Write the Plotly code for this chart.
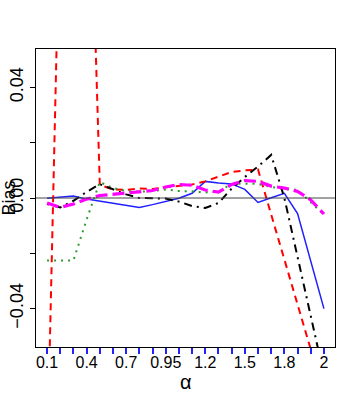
import plotly.graph_objects as go

# alpha positions (index) and labels
alpha_labels = ["0.1", "0.2", "0.3", "0.4", "0.5", "0.6", "0.7", "0.8", "0.9", "0.95",
                "1.05", "1.1", "1.2", "1.3", "1.4", "1.5", "1.6", "1.7", "1.8", "1.9", "1.95", "2"]
shown_labels = ["0.1", "0.4", "0.7", "0.95", "1.2", "1.5", "1.8", "2"]
x_idx = list(range(1, len(alpha_labels) + 1))

blue = [-0.0001, 0.0002, 0.0007, -0.0004, -0.0011, -0.0018, -0.0025, -0.0034, -0.0024, -0.0012,
        -0.0001, 0.0017, 0.0060, 0.0054, 0.0051, 0.0031, -0.0016, 0.0001, 0.0017, -0.0056,
        -0.0228, -0.0400]
red = [-0.097, 0.113, 0.140, 0.163, 0.0047, 0.0031, 0.0029, 0.0034, 0.0033, 0.0038,
       0.0043, 0.0049, 0.0060, 0.0076, 0.0094, 0.0100, 0.0103, -0.0060, -0.0223, -0.0386,
       -0.0548, -0.0710]
green = [-0.0226, -0.0226, -0.0226, -0.0078, 0.0058, 0.0036, 0.0025, 0.0023, 0.0025, 0.0031,
         0.0025, 0.0024, 0.0020, 0.0023, 0.0051, 0.0052, 0.0051, 0.0040, 0.0033, 0.0029,
         -0.0015, -0.0060]
black = [-0.0022, -0.0034, -0.0010, 0.0022, 0.0050, 0.0031, 0.0013, 0.0000, 0.0000, -0.0002,
         -0.0013, -0.0029, -0.0036, -0.0018, 0.0034, 0.0076, 0.0114, 0.0156, 0.0000, -0.0214,
         -0.0430, -0.0640]
magenta = [-0.0018, -0.0034, -0.0022, -0.0004, 0.0009, 0.0014, 0.0017, 0.0022, 0.0027, 0.0040,
           0.0049, 0.0046, 0.0029, 0.0021, 0.0049, 0.0063, 0.0060, 0.0043, 0.0036, 0.0024,
           -0.0007, -0.0058]

y_ticks = [-0.04, -0.02, 0.0, 0.02, 0.04]
y_ticktext = ["\u22120.04", "", "0.00", "", "0.04"]

fig = go.Figure()
fig.add_hline(y=0, line=dict(color="#444444", width=1))

series = [
    (blue, "#1f1fff", 1.5, "solid"),
    (red, "#ff0000", 2, "7px,5px"),
    (green, "#2e9a2e", 2, "2px,5px"),
    (black, "#000000", 2, "2px,5px,8px,5px"),
    (magenta, "#ff00ff", 3.2, "12px,5px"),
]
for vals, col, w, dash in series:
    fig.add_trace(go.Scatter(x=x_idx, y=vals, mode="lines",
                             line=dict(color=col, width=w, dash=dash),
                             showlegend=False, hoverinfo="skip"))

ticktext_x = [lab if lab in shown_labels else "" for lab in alpha_labels]

L, R, T, B = 36, 19, 49, 62
W, H = 354, 409
pw, ph = W - L - R, H - T - B

fig.update_layout(
    width=W, height=H,
    margin=dict(l=L, r=R, t=T, b=B, autoexpand=False),
    paper_bgcolor="white", plot_bgcolor="white",
    font=dict(family="Liberation Sans, Arial, sans-serif", color="black", size=19),
    xaxis=dict(range=[0.16, 22.84], tickmode="array", tickvals=x_idx, ticktext=ticktext_x,
               ticks="outside", ticklen=6, tickcolor="#2222ff", tickwidth=1.5,
               showgrid=False, zeroline=False, showline=True, linecolor="black",
               linewidth=1.3, mirror=True, automargin=False, ticklabelstandoff=-5,
               tickfont=dict(family="Liberation Sans, Arial, sans-serif", size=16)),
    yaxis=dict(range=[-0.0539, 0.0539], tickmode="array", tickvals=y_ticks, ticktext=y_ticktext,
               ticks="outside", ticklen=5, tickcolor="black", tickangle=-90,
               showgrid=False, zeroline=False, showline=True, linecolor="black",
               linewidth=1.3, mirror=True, automargin=False,
               tickfont=dict(family="Liberation Sans, Arial, sans-serif", size=18)),
    annotations=[
        dict(text="Bias", x=(8.5 - L) / pw, y=(H - B - 198) / ph, xref="paper", yref="paper",
             xanchor="center", yanchor="middle",
             showarrow=False, textangle=-90, font=dict(size=18)),
        dict(text="\u03b1", x=(186 - L) / pw, y=(H - B - 382) / ph, xref="paper", yref="paper",
             xanchor="center", yanchor="middle",
             showarrow=False, font=dict(size=20)),
    ],
)

fig.write_html("out.html", config={"displayModeBar": False},
               post_script="document.body.style.margin='0';document.body.style.padding='0';")
